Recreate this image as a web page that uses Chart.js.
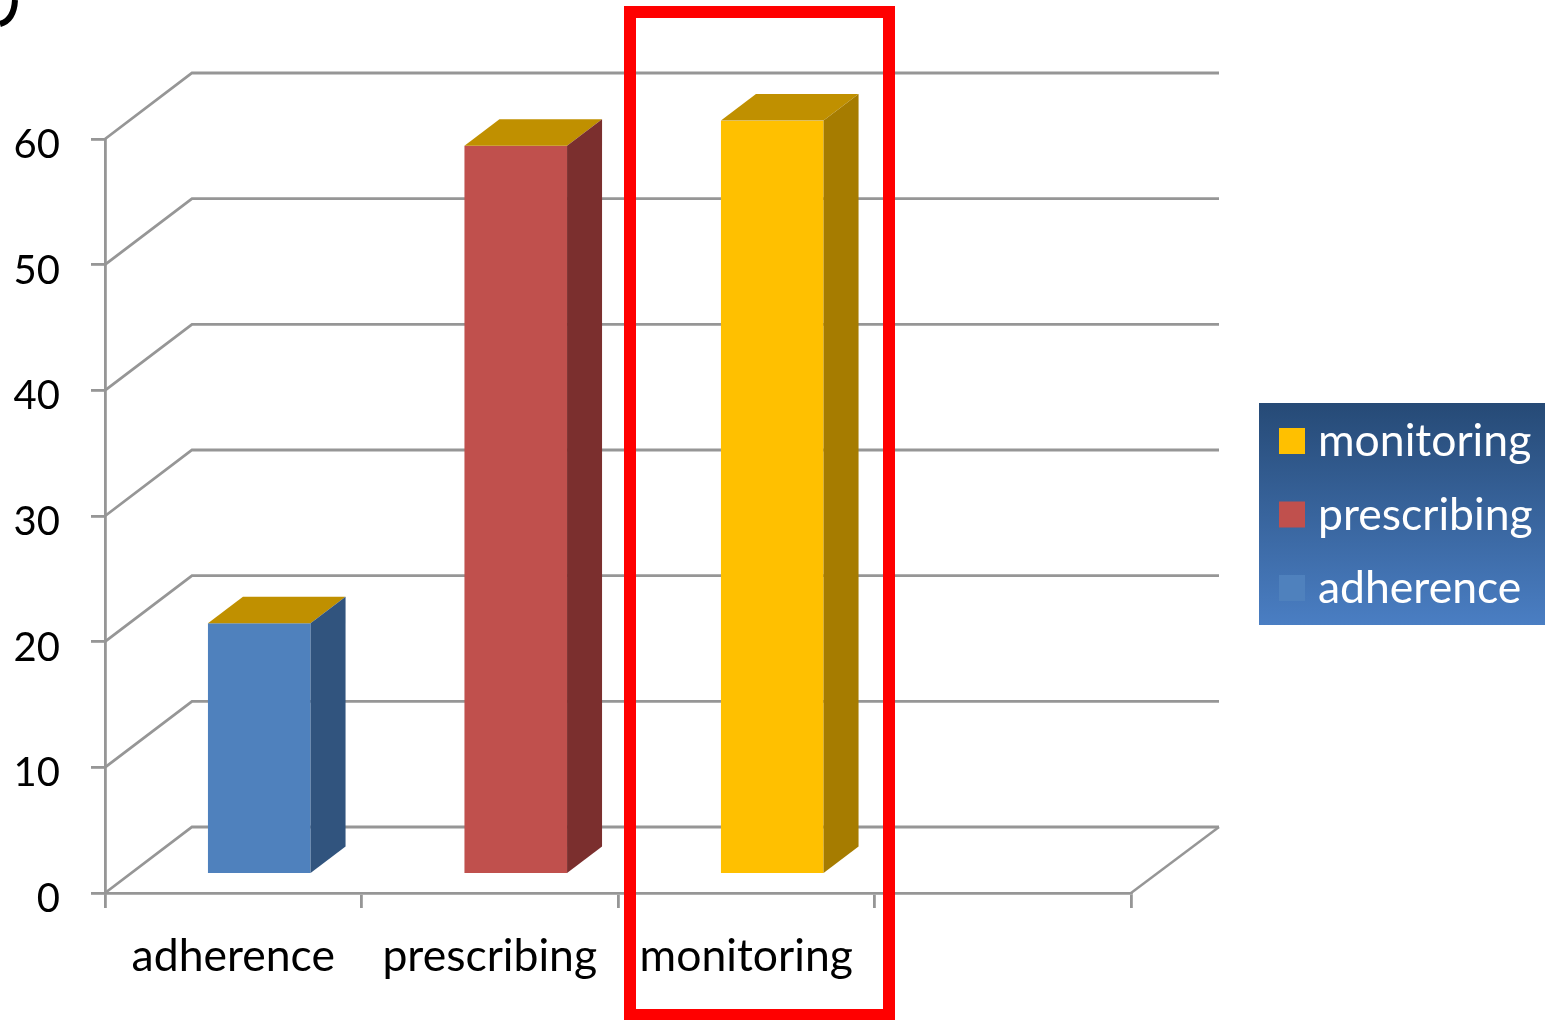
<!DOCTYPE html>
<html>
<head>
<meta charset="utf-8">
<title>adherence, prescribing, monitoring</title>
<style>
    html, body { margin: 0; padding: 0; background: #fff; }
    #wrap { width: 1547px; height: 1020px; }
</style>
<script src="https://cdn.jsdelivr.net/npm/chart.js@4/dist/chart.umd.min.js"></script>
</head>
<body>
<div id="wrap"><canvas id="barChart"></canvas></div>
<script>
const categories = ['adherence', 'prescribing', 'monitoring', ''];
const values = [20, 58, 60, null];
const yTicks = [0, 10, 20, 30, 40, 50, 60];
const legendLabels = ['monitoring', 'prescribing', 'adherence'];

const frontColors = ['#4f81bd', '#c0504d', '#ffc000', '#000'];
const sideColors = ['#31547e', '#7b2f2e', '#a67c00', '#000'];
const topColor = '#c09000';
const legendColors = ['#ffc000', '#c0504d', '#4f81bd'];

const FONT = 'Lato, Carlito, sans-serif';
const GRID = '#969696';

// depth of the fake 3d box the chart sits in, and of each bar
const wallDx = 87, wallDy = 66;
const barShiftX = 26, barShiftY = 18.5;
const barDx = 35, barDy = 26.5;

function line(ctx, pts, width) {
    ctx.beginPath();
    ctx.moveTo(pts[0][0], pts[0][1]);
    for (let i = 1; i < pts.length; i++) ctx.lineTo(pts[i][0], pts[i][1]);
    ctx.lineWidth = width;
    ctx.strokeStyle = GRID;
    ctx.stroke();
}

function poly(ctx, pts, color) {
    ctx.beginPath();
    ctx.moveTo(pts[0][0], pts[0][1]);
    for (let i = 1; i < pts.length; i++) ctx.lineTo(pts[i][0], pts[i][1]);
    ctx.closePath();
    ctx.fillStyle = color;
    ctx.fill();
}

const wallPlugin = {
    id: 'wall',
    beforeDatasetsDraw(chart) {
        const ctx = chart.ctx, a = chart.chartArea, y = chart.scales.y;
        ctx.save();
        yTicks.forEach(v => {
            const py = y.getPixelForValue(v);
            line(ctx, [[a.left, py], [a.left + wallDx, py - wallDy], [a.right + wallDx + 1, py - wallDy]], 2.8);
        });
        // right edge of the floor
        line(ctx, [[a.right + wallDx + 1, a.bottom - wallDy], [a.right, a.bottom]], 2.4);
        ctx.restore();
        // bars stand a little way in from the front edge of the floor
        ctx.save();
        ctx.translate(barShiftX, -barShiftY);
    },
    afterDatasetsDraw(chart) {
        const ctx = chart.ctx;
        chart.getDatasetMeta(0).data.forEach((bar, i) => {
            if (values[i] === null) return;
            const p = bar.getProps(['x', 'y', 'base', 'width']);
            const l = p.x - p.width / 2, r = p.x + p.width / 2;
            poly(ctx, [[l, p.y], [l + barDx, p.y - barDy], [r + barDx, p.y - barDy], [r, p.y]], topColor);
            poly(ctx, [[r, p.y], [r + barDx, p.y - barDy], [r + barDx, p.base - barDy], [r, p.base]], sideColors[i]);
        });
        ctx.restore();
    },
    afterDraw(chart) {
        const ctx = chart.ctx;
        ctx.save();

        // legend box
        const g = ctx.createLinearGradient(0, 403, 0, 625);
        g.addColorStop(0, '#264a76');
        g.addColorStop(1, '#4a7ec3');
        ctx.fillStyle = g;
        ctx.fillRect(1259, 403, 286, 222);
        ctx.font = '44.5px ' + FONT;
        ctx.textBaseline = 'alphabetic';
        legendLabels.forEach((label, i) => {
            const rowY = 441 + i * 73.5;
            ctx.fillStyle = legendColors[i];
            ctx.fillRect(1279, rowY - 13, 26, 26);
            ctx.fillStyle = '#fff';
            ctx.fillText(label, 1318, rowY + 15);
        });

        // highlight round the last category
        ctx.strokeStyle = '#ff0000';
        ctx.lineWidth = 12;
        ctx.strokeRect(630, 12, 259, 1003);

        // tail of the panel letter in the corner
        ctx.beginPath();
        ctx.moveTo(15, 0);
        ctx.quadraticCurveTo(14, 20, 0, 24);
        ctx.lineWidth = 6;
        ctx.strokeStyle = '#000';
        ctx.stroke();
        ctx.restore();
    }
};

new Chart(document.getElementById('barChart').getContext('2d'), {
    type: 'bar',
    data: {
        labels: categories,
        datasets: [{
            label: 'share',
            data: values,
            backgroundColor: frontColors,
            barPercentage: 0.4,
            categoryPercentage: 1
        }]
    },
    plugins: [wallPlugin],
    options: {
        responsive: true,
        maintainAspectRatio: false,
        animation: false,
        layout: { padding: { top: 139, right: 416, left: 0, bottom: 0 } },
        plugins: { legend: { display: false }, tooltip: { enabled: false } },
        scales: {
            x: {
                afterFit(s) { s.height = 127; },
                grid: { drawOnChartArea: false, drawTicks: true, tickLength: 15, color: GRID, lineWidth: 2.8 },
                border: { color: GRID, width: 2.8 },
                ticks: { color: '#000', maxRotation: 0, autoSkip: false, padding: 22, font: { family: FONT, size: 44.5 } }
            },
            y: {
                min: 0,
                max: 60,
                afterFit(s) { s.width = 105; },
                grid: { drawOnChartArea: false, drawTicks: true, tickLength: 14, color: GRID, lineWidth: 2.8 },
                border: { color: GRID, width: 2.8 },
                ticks: { color: '#000', stepSize: 10, padding: 31, labelOffset: 6, font: { family: FONT, size: 40 } }
            }
        }
    }
});
</script>
</body>
</html>
